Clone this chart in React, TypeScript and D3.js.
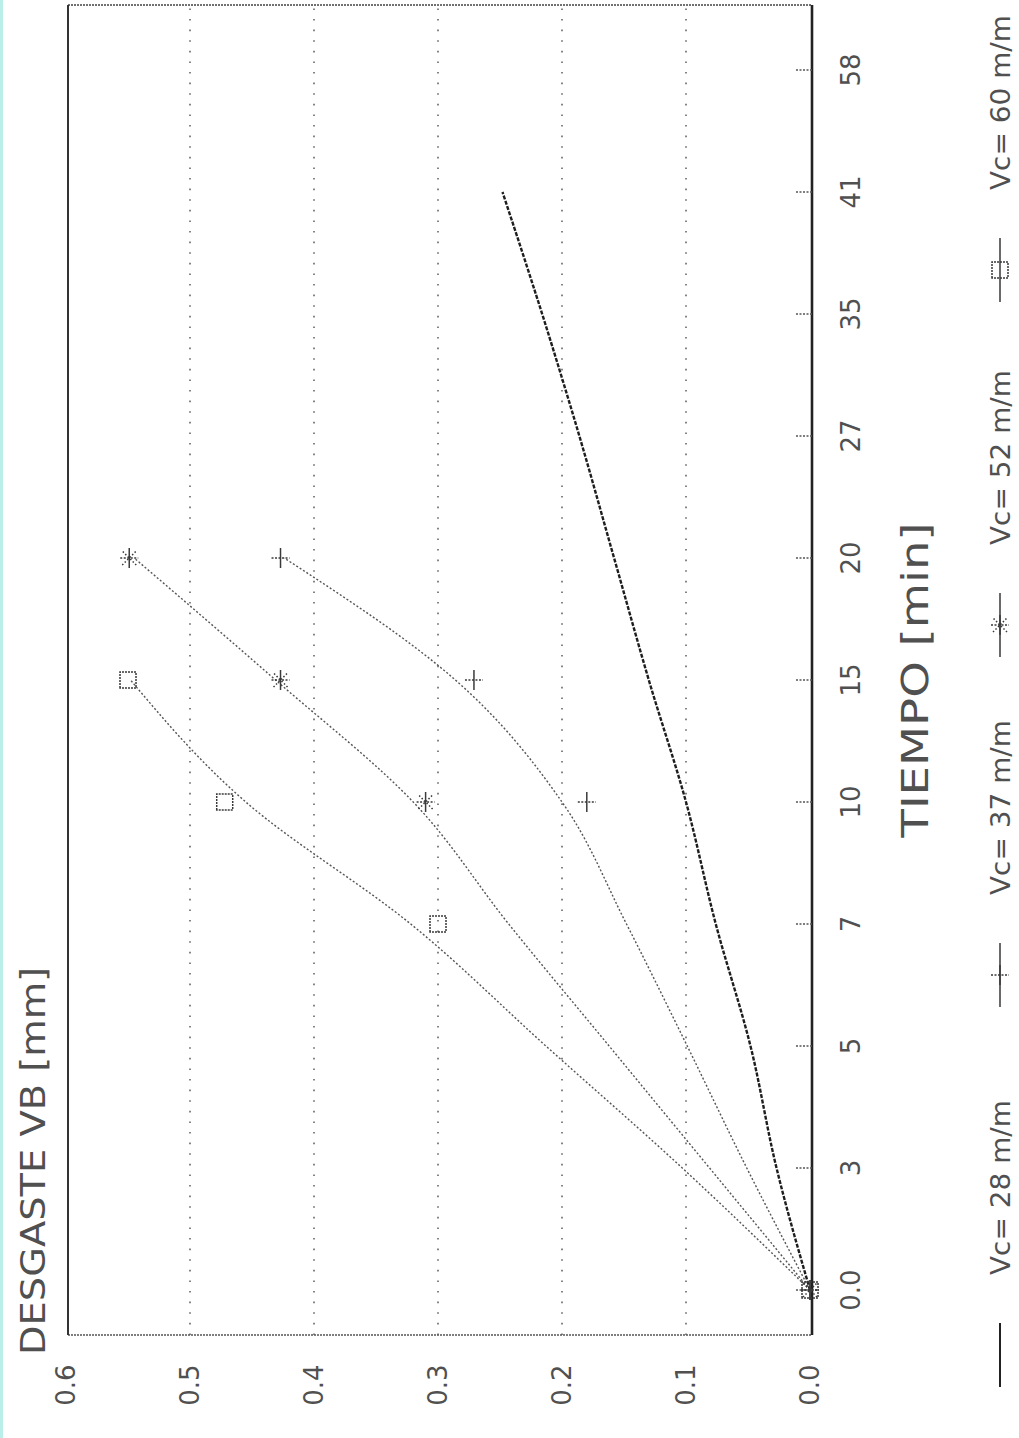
import React from "react";
import * as d3 from "d3";

// ---- data ----
const categories = ["0.0", "3", "5", "7", "10", "15", "20", "27", "35", "41", "58"];
const yTicks = [0, 0.1, 0.2, 0.3, 0.4, 0.5, 0.6];
const seriesNames = ["Vc= 28 m/m", "Vc= 37 m/m", "Vc= 52 m/m", "Vc= 60 m/m"];

// fitted curves (line values per category)
const vc28Line = [0, 0.027, 0.048, 0.076, 0.1, 0.13, 0.158, 0.186, 0.216, 0.248];
const vc37Line = [0, 0.051, 0.099, 0.148, 0.2, 0.286, 0.424];
const vc52Line = [0, 0.081, 0.162, 0.243, 0.32, 0.431, 0.545];
const vc60Line = [0, 0.103, 0.213, 0.322, 0.455, 0.548];

// measured points (markers)
const vc37Cats = ["0.0", "10", "15", "20"];
const vc37Vals = [0, 0.18, 0.271, 0.427];
const vc52Cats = ["0.0", "10", "15", "20"];
const vc52Vals = [0, 0.31, 0.427, 0.549];
const vc60Cats = ["0.0", "7", "10", "15"];
const vc60Vals = [0, 0.3, 0.472, 0.55];

const W = 1019;
const H = 1438;
const FONT = "'DejaVu Sans', sans-serif";
const TXT = "#505050";

type Sym = "none" | "plus" | "star" | "square";

function Marker({ u, v, sym }: { u: number; v: number; sym: Sym }) {
  const st = { stroke: "#3a3a3a", strokeWidth: 1.5, fill: "none" };
  if (sym === "plus")
    return (
      <g {...st}>
        <line x1={u - 10} y1={v} x2={u + 10} y2={v} />
        <line x1={u} y1={v - 9} x2={u} y2={v + 9} strokeDasharray="2,1.5" />
      </g>
    );
  if (sym === "star")
    return (
      <g {...st}>
        <line x1={u - 10} y1={v} x2={u + 10} y2={v} />
        <line x1={u} y1={v - 9} x2={u} y2={v + 9} strokeDasharray="2,1.5" />
        <line x1={u - 7} y1={v - 7} x2={u + 7} y2={v + 7} strokeDasharray="1.5,2" />
        <line x1={u - 7} y1={v + 7} x2={u + 7} y2={v - 7} strokeDasharray="1.5,2" />
      </g>
    );
  if (sym === "square")
    return <rect x={u - 8} y={v - 8} width={16} height={16} {...st} strokeDasharray="2,1" />;
  return null;
}

export default function App() {
  const x = d3.scalePoint<string>().domain(categories).range([148, 1368]);
  const y = d3.scaleLinear().domain([0, 0.6]).range([810, 66]);
  const u0 = 103, u1 = 1433, v0 = 68, v1 = 812;

  const line = d3
    .line<number>()
    .x((_, i) => x(categories[i]) as number)
    .y((d) => y(d))
    .curve(d3.curveMonotoneX);

  const lines = [
    { vals: vc28Line, stroke: "#1e1e1e", w: 2.4, dash: "4,1.5" },
    { vals: vc37Line, stroke: "#555", w: 1.4, dash: "2,2" },
    { vals: vc52Line, stroke: "#555", w: 1.4, dash: "2,2" },
    { vals: vc60Line, stroke: "#555", w: 1.4, dash: "2,2" },
  ];
  const pts: { cats: string[]; vals: number[]; sym: Sym }[] = [
    { cats: vc37Cats, vals: vc37Vals, sym: "plus" },
    { cats: vc52Cats, vals: vc52Vals, sym: "star" },
    { cats: vc60Cats, vals: vc60Vals, sym: "square" },
  ];

  const legendSyms: Sym[] = ["none", "plus", "star", "square"];
  const legendText = [163, 543, 893, 1248];
  const legendV = 1000;

  return (
    <svg
      width={W}
      height={H}
      viewBox={`0 0 ${W} ${H}`}
      style={{ position: "absolute", left: 0, top: 0, background: "#fff" }}
    >
      <rect x={0} y={0} width={W} height={H} fill="#fff" />
      <rect x={0} y={0} width={3} height={H} fill="#b9efe8" />
      <g transform={`translate(0,${H}) rotate(-90)`}>
        {/* gridlines */}
        {yTicks
          .filter((t) => t > 0 && t < 0.6)
          .map((t) => (
            <line
              key={t}
              x1={u0}
              x2={u1}
              y1={y(t)}
              y2={y(t)}
              stroke="#666"
              strokeWidth={1.6}
              strokeDasharray="1.6,9"
            />
          ))}
        {/* frame */}
        <line x1={u0} x2={u0} y1={v0} y2={v1} stroke="#555" strokeWidth={1.3} strokeDasharray="2,1" />
        <line x1={u1} x2={u1} y1={v0} y2={v1} stroke="#444" strokeWidth={1.5} strokeDasharray="2,1" />
        <line x1={u0} x2={u1} y1={v0} y2={v0} stroke="#333" strokeWidth={2} />
        <line x1={u0} x2={u1} y1={v1} y2={v1} stroke="#222" strokeWidth={2.6} />
        {/* x ticks */}
        {categories.map((c) => (
          <line
            key={c}
            x1={x(c)}
            x2={x(c)}
            y1={v1 - 16}
            y2={v1}
            stroke="#555"
            strokeWidth={1.4}
            strokeDasharray="2,1.5"
          />
        ))}
        {/* x tick labels */}
        {categories.map((c) => (
          <text
            key={c}
            x={x(c)}
            y={851}
            textAnchor="middle"
            dominantBaseline="central"
            fontFamily={FONT}
            fontSize={26}
            fill={TXT}
          >
            {c}
          </text>
        ))}
        {/* y tick labels */}
        {yTicks.map((t) => (
          <text
            key={t}
            x={53}
            y={y(t)}
            textAnchor="middle"
            dominantBaseline="central"
            fontFamily={FONT}
            fontSize={26}
            fill={TXT}
          >
            {t.toFixed(1)}
          </text>
        ))}
        {/* lines */}
        {lines.map((l, i) => (
          <path
            key={i}
            d={line(l.vals) || ""}
            fill="none"
            stroke={l.stroke}
            strokeWidth={l.w}
            strokeDasharray={l.dash}
          />
        ))}
        {/* markers */}
        {pts.map((p, i) =>
          p.cats.map((c, j) => (
            <Marker key={`${i}-${j}`} u={x(c) as number} v={y(p.vals[j])} sym={p.sym} />
          ))
        )}
        {/* titles */}
        <text x={83} y={45} fontFamily={FONT} fontSize={33} fill={TXT} textLength={388} lengthAdjust="spacingAndGlyphs">
          DESGASTE VB [mm]
        </text>
        <text
          x={758}
          y={915}
          textAnchor="middle"
          dominantBaseline="central"
          fontFamily={FONT}
          fontSize={38}
          fill={TXT}
          textLength={315}
          lengthAdjust="spacingAndGlyphs"
        >
          TIEMPO [min]
        </text>
        {/* legend */}
        {seriesNames.map((n, i) => {
          const ts = legendText[i];
          return (
            <g key={n}>
              <line
                x1={ts - 112}
                x2={ts - 48}
                y1={legendV}
                y2={legendV}
                stroke={i === 0 ? "#222" : "#444"}
                strokeWidth={i === 0 ? 2 : 1.6}
              />
              <Marker u={ts - 80} v={legendV} sym={legendSyms[i]} />
              <text
                x={ts}
                y={legendV}
                dominantBaseline="central"
                fontFamily={FONT}
                fontSize={27}
                fill={TXT}
                textLength={175}
                lengthAdjust="spacingAndGlyphs"
              >
                {n}
              </text>
            </g>
          );
        })}
      </g>
    </svg>
  );
}
